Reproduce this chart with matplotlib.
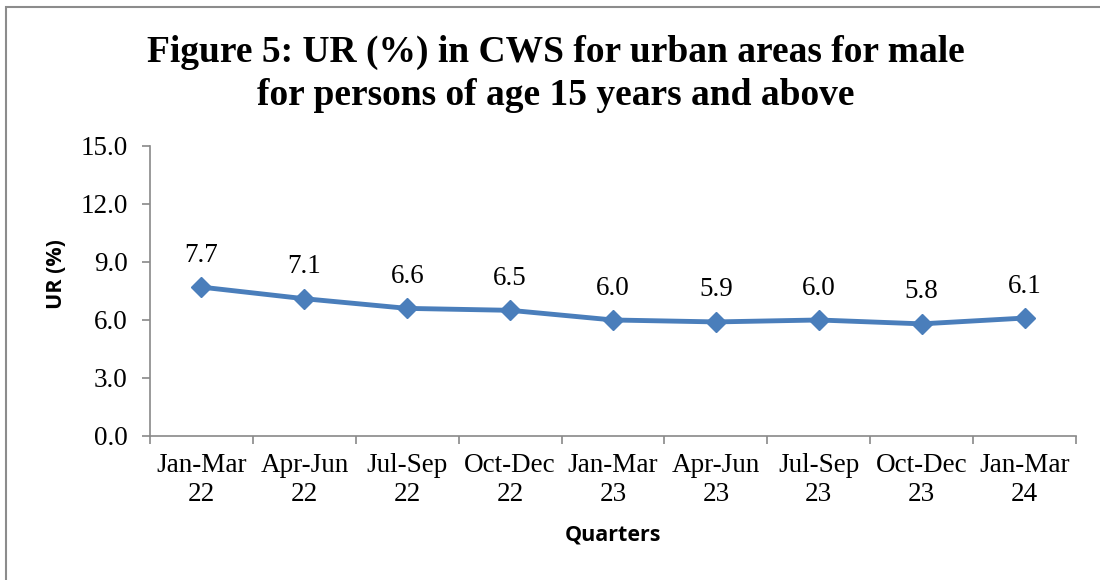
import matplotlib.pyplot as plt
from matplotlib.patches import Rectangle

quarters = ["Jan-Mar\n22", "Apr-Jun\n22", "Jul-Sep\n22", "Oct-Dec\n22", "Jan-Mar\n23",
            "Apr-Jun\n23", "Jul-Sep\n23", "Oct-Dec\n23", "Jan-Mar\n24"]
ur_values = [7.7, 7.1, 6.6, 6.5, 6.0, 5.9, 6.0, 5.8, 6.1]
y_ticks = [0.0, 3.0, 6.0, 9.0, 12.0, 15.0]

serif = "Liberation Serif"
sans = "Open Sans"
line_color = "#4A7EBB"
axis_color = "#898989"

fig = plt.figure(figsize=(11, 5.8), dpi=100)
ax = fig.add_axes([0.1364, 0.2483, 0.8418, 0.5000])

x = list(range(len(quarters)))
ax.plot(x, ur_values, color=line_color, linewidth=3.5, marker="D", markersize=10,
        markerfacecolor=line_color, markeredgecolor=line_color)

for xi, v in zip(x, ur_values):
    ax.annotate(f"{v:.1f}", (xi, v), xytext=(0, 14), textcoords="offset points",
                ha="center", va="bottom", fontsize=19.5, family=serif)

ax.set_xlim(-0.5, len(quarters) - 0.5)
ax.set_ylim(0, 15)
ax.set_yticks(y_ticks)
ax.set_yticklabels([f"{t:.1f}" for t in y_ticks], fontsize=19.5, family=serif)
ax.set_xticks([i - 0.5 for i in range(len(quarters) + 1)])
ax.set_xticklabels([])
ax.set_xticks(x, minor=True)
ax.set_xticklabels(quarters, minor=True, fontsize=19.5, family=serif, linespacing=1.25)
ax.tick_params(axis="x", which="minor", length=0, pad=12)
ax.tick_params(axis="x", which="major", length=6, color=axis_color, width=1.2)
ax.tick_params(axis="y", length=6, color=axis_color, width=1.2, pad=10)

for side in ["top", "right"]:
    ax.spines[side].set_visible(False)
for side in ["left", "bottom"]:
    ax.spines[side].set_color(axis_color)
    ax.spines[side].set_linewidth(1.2)

ax.set_ylabel("UR (%)", fontsize=15.5, fontweight="bold", family=sans)
ax.yaxis.set_label_coords(-0.09, 0.56)
ax.set_xlabel("Quarters", fontsize=15.5, fontweight="bold", family=sans, labelpad=12)

fig.text(0.505, 0.872, "Figure 5: UR (%) in CWS for urban areas for male\nfor persons of age 15 years and above",
         ha="center", va="center", fontsize=27, fontweight="bold", family=serif, linespacing=1.3)

fig.patches.append(Rectangle((6 / 1100, -0.1), 1.2, 1.1 - 7 / 580, transform=fig.transFigure,
                             fill=False, edgecolor="#8C8C8C", linewidth=1.5))

fig.savefig("out.png", dpi=100)
